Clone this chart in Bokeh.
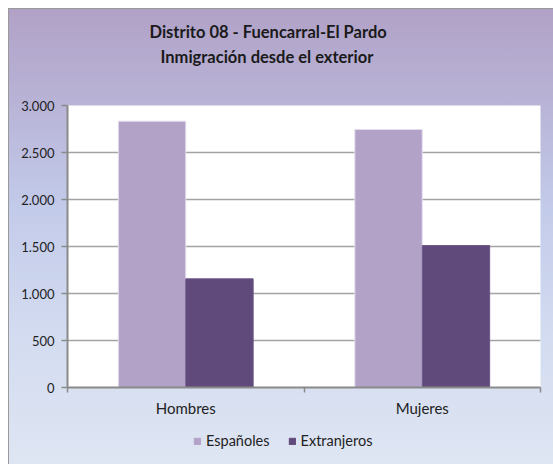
from bokeh.plotting import figure
from bokeh.layouts import column
from bokeh.models import (ColumnDataSource, FixedTicker, Legend, LegendItem,
                          Range1d, Title)
from bokeh.embed import file_html
from bokeh.resources import INLINE

# ---- data ----
categories = ["Hombres", "Mujeres"]
series_names = ["Españoles", "Extranjeros"]
espanoles = [2833, 2745]
extranjeros = [1156, 1510]
y_ticks = [0, 500, 1000, 1500, 2000, 2500, 3000]
y_tick_labels = ["0", "500", "1.000", "1.500", "2.000", "2.500", "3.000"]
title_lines = ["Distrito 08 - Fuencarral-El Pardo", "Inmigración desde el exterior"]

FONT = "Lato"
colors = ["#b2a2c7", "#604a7b"]
line_colors = ["#e4ddee", "#6a5586"]

n = len(categories)
centers = [i + 0.5 for i in range(n)]
bar_w = 0.285

p = figure(width=553, height=430, output_backend="svg", toolbar_location=None,
           x_range=Range1d(0, n), y_range=Range1d(0, 3000),
           min_border_left=67, min_border_right=13, min_border_top=105,
           min_border_bottom=43)
p.border_fill_color = None
p.outline_line_color = None
p.background_fill_color = "white"

src = ColumnDataSource(dict(
    x_esp=[c - bar_w / 2 for c in centers],
    x_ext=[c + bar_w / 2 for c in centers],
    esp=espanoles, ext=extranjeros,
))
r1 = p.vbar(x="x_esp", top="esp", bottom=0, width=bar_w, source=src,
            fill_color=colors[0], line_color=line_colors[0], line_width=1)
r2 = p.vbar(x="x_ext", top="ext", bottom=0, width=bar_w, source=src,
            fill_color=colors[1], line_color=line_colors[1], line_width=1)

# grid
p.xgrid.grid_line_color = None
p.ygrid.ticker = FixedTicker(ticks=y_ticks)
p.ygrid.grid_line_color = "#a3a3a3"
p.ygrid.grid_line_width = 1.5

# y axis
ya = p.yaxis[0]
ya.ticker = FixedTicker(ticks=y_ticks)
ya.major_label_overrides = {t: l for t, l in zip(y_ticks, y_tick_labels)}
ya.axis_line_color = "#8a8a8a"
ya.axis_line_width = 2
ya.major_tick_line_color = "#8a8a8a"
ya.major_tick_line_width = 1.5
ya.major_tick_in = 0
ya.major_tick_out = 6
ya.minor_tick_line_color = None
ya.major_label_text_font = FONT
ya.major_label_text_font_size = "13px"
ya.major_label_text_color = "#222222"
ya.major_label_standoff = 7

# x axis
xa = p.xaxis[0]
xa.ticker = FixedTicker(ticks=centers, minor_ticks=list(range(n + 1)))
xa.major_label_overrides = {c: l for c, l in zip(centers, categories)}
xa.axis_line_color = "#8a8a8a"
xa.axis_line_width = 2
xa.major_tick_line_color = None
xa.minor_tick_line_color = "#8a8a8a"
xa.minor_tick_line_width = 1.5
xa.minor_tick_in = 0
xa.minor_tick_out = 5
xa.major_label_text_font = FONT
xa.major_label_text_font_size = "15px"
xa.major_label_text_color = "#222222"
xa.major_label_standoff = 5

# title (two lines) + spacer
TS = "16.5px"
spacer = Title(text=" ", text_font_size="1px", standoff=34)
t2 = Title(text=title_lines[1], align="left", offset=93, standoff=4,
           text_font=FONT, text_font_style="bold", text_font_size=TS,
           text_color="#1a1a1a")
t1 = Title(text=title_lines[0], align="left", offset=82, standoff=2,
           text_font=FONT, text_font_style="bold", text_font_size=TS,
           text_color="#1a1a1a")
p.add_layout(spacer, "above")
p.add_layout(t2, "above")
p.add_layout(t1, "above")

# legend strip (own small figure so the legend is not clipped);
# its frame is aligned with the main plot's frame by the column layout
lp = figure(width=553, height=34, output_backend="svg", toolbar_location=None,
            x_range=Range1d(0, 1), y_range=Range1d(0, 1),
            x_axis_type=None, y_axis_type=None,
            min_border_left=0, min_border_right=0, min_border_top=0,
            min_border_bottom=0)
lp.border_fill_color = None
lp.background_fill_color = None
lp.outline_line_color = None
lp.xgrid.visible = False
lp.ygrid.visible = False
key_src = ColumnDataSource(dict(x=[-5.0], top=[0.0]))
k1 = lp.vbar(x="x", top="top", width=0.1, source=key_src,
             fill_color=colors[0], line_color=colors[0])
k2 = lp.vbar(x="x", top="top", width=0.1, source=key_src,
             fill_color=colors[1], line_color=colors[1])
legend = Legend(items=[LegendItem(label=series_names[0], renderers=[k1]),
                       LegendItem(label=series_names[1], renderers=[k2])],
                orientation="horizontal", location=(126, 15),
                glyph_width=8, glyph_height=8, label_height=17,
                label_standoff=5, spacing=18, padding=0, margin=0,
                border_line_color=None, background_fill_alpha=0,
                label_text_font=FONT, label_text_font_size="14.5px",
                label_text_color="#222222")
lp.add_layout(legend, "center")

grad = ("linear-gradient(to bottom, #b1a1c7 0px, #b8b3d6 90px, #c3cbea 200px, "
        "#d3dcf0 330px, #dfe6f3 464px)")
layout = column(p, lp, spacing=0)
layout.styles = {
    "background": (grad + " 9px 9px / 544px 455px no-repeat, "
                   "linear-gradient(#9a9a9a, #9a9a9a) 8px 8px / 545px 456px no-repeat, "
                   "#ffffff"),
}

open("out.html", "w").write(file_html(layout, INLINE))
